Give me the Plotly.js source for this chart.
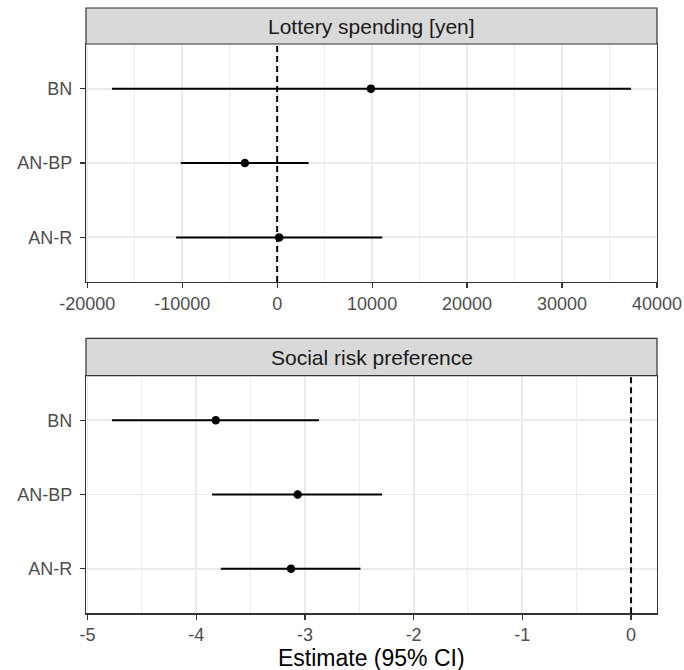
<!DOCTYPE html>
<html>
<head>
<meta charset="utf-8">
<script src="https://cdn.plot.ly/plotly-3.0.1.min.js"></script>
<style>
html,body{margin:0;padding:0;background:#fff;}
#chart{width:684px;height:670px;}
</style>
</head>
<body>
<div id="chart"></div>
<script>
// ---- data ----
const categories = ['BN', 'AN-BP', 'AN-R'];

const lotteryEst  = [9870, -3400, 210];
const lotteryLow  = [-17400, -10150, -10640];
const lotteryHigh = [37270, 3310, 11065];

const riskEst  = [-3.82, -3.067, -3.128];
const riskLow  = [-4.775, -3.854, -3.774];
const riskHigh = [-2.871, -2.29, -2.489];

const lotteryTicks    = [-20000, -10000, 0, 10000, 20000, 30000, 40000];
const lotteryTickText = ['-20000', '-10000', '0', '10000', '20000', '30000', '40000'];
const lotteryMinor    = [-15000, -5000, 5000, 15000, 25000, 35000];
const riskTicks    = [-5, -4, -3, -2, -1, 0];
const riskTickText = ['-5', '-4', '-3', '-2', '-1', '0'];
const riskMinor    = [-4.5, -3.5, -2.5, -1.5, -0.5];

const stripTitles = ['Lottery spending [yen]', 'Social risk preference'];
const xTitle = 'Estimate (95% CI)';

// ---- layout geometry ----
const W = 684, H = 670;
const px = v => v / W;
const py = v => 1 - v / H;
const xDom = [px(86), px(657)];
const topDom = [py(282), py(44)];
const topStrip = [py(44), py(8)];
const botDom = [py(613.3), py(375.7)];
const botStrip = [py(375.7), py(338.3)];

function expandRange(lo, hi, incl) {
  const a = Math.min(lo, incl), b = Math.max(hi, incl);
  const pad = (b - a) * 0.05;
  return [a - pad, b + pad];
}
const topRange = expandRange(Math.min(...lotteryLow), Math.max(...lotteryHigh), 0);
const botRange = expandRange(Math.min(...riskLow), Math.max(...riskHigh), 0);

function trace(est, lo, hi, xa, ya) {
  return {
    type: 'scatter', mode: 'markers',
    x: est, y: categories, xaxis: xa, yaxis: ya,
    marker: {color: 'black', size: 8.5},
    error_x: {
      type: 'data', symmetric: false,
      array: hi.map((h, i) => h - est[i]),
      arrayminus: lo.map((l, i) => est[i] - l),
      width: 0, thickness: 2, color: 'black'
    },
    hoverinfo: 'skip', showlegend: false, cliponaxis: false
  };
}

const fontFam = '"Liberation Sans", Arial, Helvetica, sans-serif';
const common = {
  showline: true, mirror: true, linecolor: '#333333', linewidth: 1.2,
  ticks: 'outside', ticklen: 5, tickwidth: 1.2, tickcolor: '#333333',
  showgrid: true, gridcolor: '#EBEBEB', gridwidth: 1.8,
  zeroline: false, fixedrange: true,
  tickfont: {family: fontFam, size: 18, color: '#4D4D4D'}
};
function xAxis(dom, range, tv, tt, minor, anchor) {
  return Object.assign({}, common, {
    domain: dom, range: range, anchor: anchor,
    tickmode: 'array', tickvals: tv, ticktext: tt,
    minor: {tickmode: 'array', tickvals: minor, showgrid: true, gridcolor: '#EBEBEB', gridwidth: 0.9, ticks: ''}
  });
}
function yAxis(dom, anchor) {
  return Object.assign({}, common, {
    domain: dom, anchor: anchor, type: 'category',
    categoryorder: 'array', categoryarray: categories.slice().reverse(),
    range: [-0.6, categories.length - 0.4],
    ticklabelstandoff: 4
  });
}

const layout = {
  width: W, height: H,
  margin: {l: 0, r: 0, t: 0, b: 0},
  paper_bgcolor: 'white', plot_bgcolor: 'white',
  font: {family: fontFam},
  showlegend: false,
  xaxis: xAxis(xDom, topRange, lotteryTicks, lotteryTickText, lotteryMinor, 'y'),
  yaxis: yAxis(topDom, 'x'),
  xaxis2: xAxis(xDom, botRange, riskTicks, riskTickText, riskMinor, 'y2'),
  yaxis2: yAxis(botDom, 'x2'),
  shapes: [
    {type: 'line', xref: 'x', yref: 'y domain', x0: 0, x1: 0, y0: 0, y1: 1,
     line: {color: 'black', width: 2, dash: '6px,4px'}, layer: 'above'},
    {type: 'line', xref: 'x2', yref: 'y2 domain', x0: 0, x1: 0, y0: 0, y1: 1,
     line: {color: 'black', width: 2, dash: '6px,4px'}, layer: 'above'},
    {type: 'rect', xref: 'paper', yref: 'paper', x0: xDom[0], x1: xDom[1], y0: topStrip[0], y1: topStrip[1],
     fillcolor: '#D9D9D9', line: {color: '#333333', width: 1.2}},
    {type: 'rect', xref: 'paper', yref: 'paper', x0: xDom[0], x1: xDom[1], y0: botStrip[0], y1: botStrip[1],
     fillcolor: '#D9D9D9', line: {color: '#333333', width: 1.2}}
  ],
  annotations: [
    {xref: 'paper', yref: 'paper', x: (xDom[0] + xDom[1]) / 2, y: (topStrip[0] + topStrip[1]) / 2,
     text: stripTitles[0], showarrow: false, xanchor: 'center', yanchor: 'middle',
     font: {family: fontFam, size: 21, color: '#1A1A1A'}},
    {xref: 'paper', yref: 'paper', x: (xDom[0] + xDom[1]) / 2, y: (botStrip[0] + botStrip[1]) / 2,
     text: stripTitles[1], showarrow: false, xanchor: 'center', yanchor: 'middle',
     font: {family: fontFam, size: 21, color: '#1A1A1A'}},
    {xref: 'paper', yref: 'paper', x: (xDom[0] + xDom[1]) / 2, y: py(658),
     text: xTitle, showarrow: false, xanchor: 'center', yanchor: 'middle',
     font: {family: fontFam, size: 23, color: '#000000'}}
  ]
};

Plotly.newPlot('chart', [
  trace(lotteryEst, lotteryLow, lotteryHigh, 'x', 'y'),
  trace(riskEst, riskLow, riskHigh, 'x2', 'y2')
], layout, {staticPlot: true, displayModeBar: false});
</script>
</body>
</html>
